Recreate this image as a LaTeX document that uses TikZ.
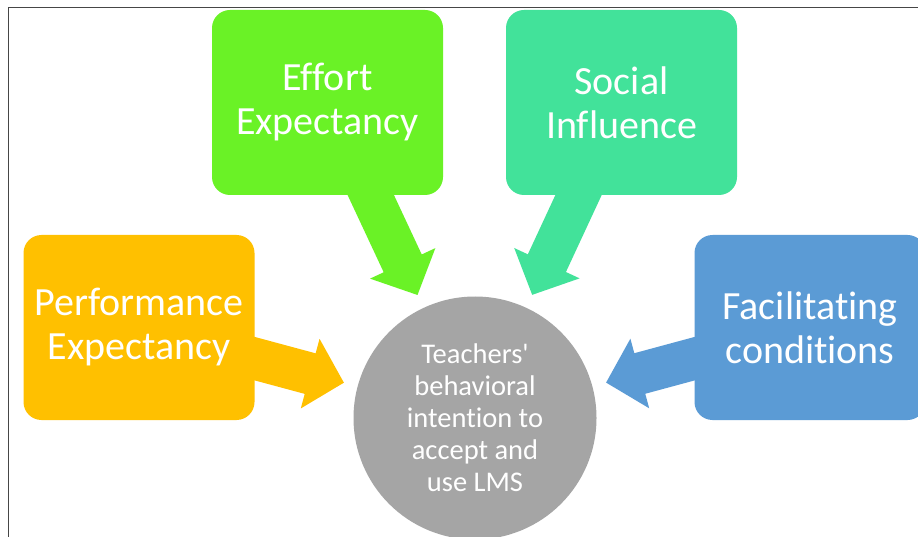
\documentclass[tikz,border=0pt]{standalone}
\usepackage{fontspec}
\setmainfont{Carlito}[Ligatures={NoCommon,TeXOff}]
\usetikzlibrary{arrows.meta,backgrounds}
\definecolor{effortgreen}{RGB}{106,242,38}
\definecolor{socialteal}{RGB}{66,226,154}
\definecolor{perforange}{RGB}{255,192,0}
\definecolor{facilblue}{RGB}{91,155,213}
\definecolor{centergrey}{RGB}{165,165,165}
\definecolor{framegrey}{RGB}{70,70,70}
\begin{document}
\begin{tikzpicture}[x=1pt,y=-1pt,
  factor/.style={rectangle, rounded corners=18pt, minimum width=231pt,
    minimum height=185pt, inner sep=0pt, text=white, align=center,
    font=\fontsize{40}{44}\selectfont},
  target/.style={circle, fill=centergrey, minimum size=243pt, inner sep=0pt,
    text=white, align=center, font=\fontsize{28.5}{32}\selectfont},
  blockarrow/.style={line width=42pt, -{Triangle[length=35pt,width=70pt]},
    shorten >=14pt}
]
\useasboundingbox (0,0) rectangle (918,537);
\clip (0,0) rectangle (918,537);

% central construct
\node[target] (intent) at (475,418)
  {Teachers'\\behavioral\\intention to\\accept and\\use LMS};

% the four determinants
\node[factor, fill=effortgreen] (effort) at (327.5,102.5) {Effort\\Expectancy};
\node[factor, fill=socialteal]  (social) at (621.5,102.5) {Social\\Influence};
\node[factor, fill=perforange]  (perf)   at (139,327.5)   {Performance\\Expectancy};
\node[factor, fill=facilblue]   (facil)  at (810,327.5)   {Facilitating\\conditions};

% block arrows, tucked behind the boxes
\begin{scope}[on background layer]
  \fill[white] (0,0) rectangle (918,537);
  \draw[blockarrow, effortgreen] (effort.center) -- (intent);
  \draw[blockarrow, socialteal]  (social.center) -- (intent);
  \draw[blockarrow, perforange]  (perf.center)   -- (intent);
  \draw[blockarrow, facilblue]   (facil.center)  -- (intent);
\end{scope}

% frame
\draw[framegrey, line width=1pt] (8.5,537) -- (8.5,7.5) -- (918,7.5);
\end{tikzpicture}
\end{document}
